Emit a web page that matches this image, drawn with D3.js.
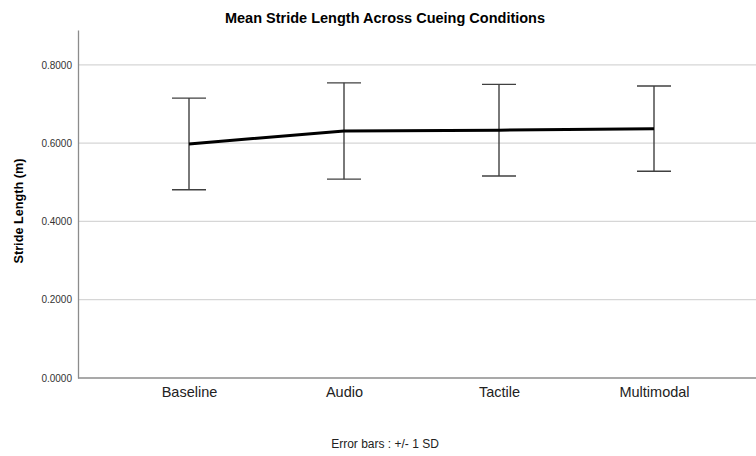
<!DOCTYPE html>
<html>
<head>
<meta charset="utf-8">
<script src="https://cdn.jsdelivr.net/npm/d3@7"></script>
<style>
  body { margin: 0; background: #fff; }
  svg { font-family: "Liberation Sans", Arial, sans-serif; }
</style>
</head>
<body>
<svg id="chartSVG"></svg>
<script>
// data
let conditions = ['Baseline', 'Audio', 'Tactile', 'Multimodal'];
let means = [0.598, 0.631, 0.633, 0.637];
let sds = [0.117, 0.123, 0.117, 0.109];
let yTicks = [0, 0.2, 0.4, 0.6, 0.8];

let widthSVG = 756;
let heightSVG = 456;
let margins = { top: 30, bottom: 78, left: 78, right: 0 };

let width = widthSVG - margins.left - margins.right;
let height = heightSVG - margins.top - margins.bottom;

let SVG = d3.select('svg#chartSVG')
            .attr('width', widthSVG)
            .attr('height', heightSVG);

let SVGG = SVG.append('g')
              .attr('transform', `translate(${margins.left}, ${margins.top})`);

let y = d3.scaleLinear().domain([0, 0.889]).range([height, 0]);
let x = d3.scalePoint().domain(conditions).range([111, 576]);

// gridlines
SVGG.selectAll('line.grid')
    .data(yTicks.slice(1))
    .enter()
    .append('line')
    .attr('x1', 0).attr('x2', width)
    .attr('y1', d => y(d)).attr('y2', d => y(d))
    .style('stroke', '#d6d6d6')
    .style('stroke-width', 1.2);

// y axis
let yAxis = d3.axisLeft(y).tickValues(yTicks).tickSize(0).tickPadding(6)
              .tickFormat(d3.format('.4f'));
let gy = SVGG.append('g').call(yAxis);
gy.select('.domain').style('stroke', '#8c8c8c').style('stroke-width', 1.3);
gy.selectAll('text').style('font-size', '10px').style('fill', '#333')
  .style('font-family', '"Liberation Sans", Arial, sans-serif');

// x axis
let xAxis = d3.axisBottom(x).tickSize(0).tickPadding(9);
let gx = SVGG.append('g').attr('transform', `translate(0, ${height})`).call(xAxis);
gx.select('.domain').attr('d', `M0,0H${width}`).style('stroke', '#8c8c8c').style('stroke-width', 1.5);
gx.selectAll('text').style('font-size', '14.5px').style('fill', '#222')
  .style('font-family', '"Liberation Sans", Arial, sans-serif');

let rows = conditions.map((c, i) => ({ c: c, m: means[i], sd: sds[i] }));

// error bars
let capW = 17;
let eb = SVGG.selectAll('g.eb')
             .data(rows)
             .enter()
             .append('g')
             .classed('eb', true)
             .style('stroke', '#404040')
             .style('stroke-width', 1.4);
eb.append('line')
  .attr('x1', d => x(d.c)).attr('x2', d => x(d.c))
  .attr('y1', d => y(d.m + d.sd)).attr('y2', d => y(d.m - d.sd));
eb.append('line')
  .attr('x1', d => x(d.c) - capW).attr('x2', d => x(d.c) + capW)
  .attr('y1', d => y(d.m + d.sd)).attr('y2', d => y(d.m + d.sd));
eb.append('line')
  .attr('x1', d => x(d.c) - capW).attr('x2', d => x(d.c) + capW)
  .attr('y1', d => y(d.m - d.sd)).attr('y2', d => y(d.m - d.sd));

// mean line
let line = d3.line().x(d => x(d.c)).y(d => y(d.m));
SVGG.append('path')
    .datum(rows)
    .attr('d', line)
    .style('fill', 'none')
    .style('stroke', '#000')
    .style('stroke-width', 3);

// title
SVG.append('text')
   .text('Mean Stride Length Across Cueing Conditions')
   .attr('x', 385).attr('y', 23)
   .style('text-anchor', 'middle')
   .style('font-size', '14.5px')
   .style('font-weight', 'bold');

// y label
SVG.append('text')
   .text('Stride Length (m)')
   .attr('transform', `translate(23, 211) rotate(-90)`)
   .style('text-anchor', 'middle')
   .style('font-size', '12.7px')
   .style('font-weight', 'bold');

// footnote
SVG.append('text')
   .text('Error bars : +/- 1 SD')
   .attr('x', 385).attr('y', 448)
   .style('text-anchor', 'middle')
   .style('font-size', '12px')
   .style('fill', '#222');
</script>
</body>
</html>
